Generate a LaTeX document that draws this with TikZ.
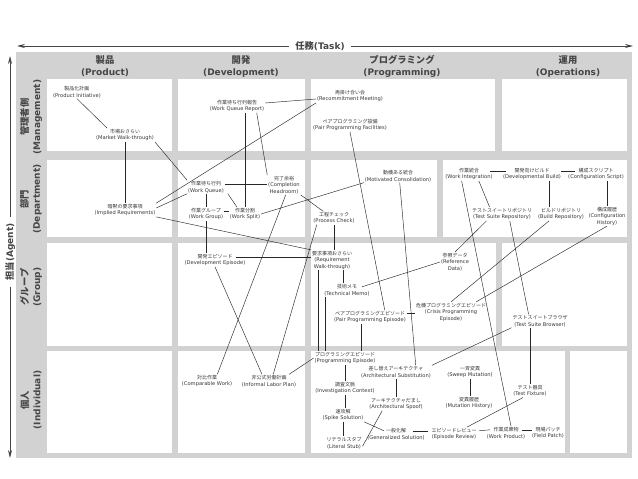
\documentclass[tikz,border=0pt]{standalone}
\usepackage{fontspec}
\newfontfamily\jp{Noto Sans CJK JP}
\newfontfamily\enf{DejaVu Sans}
\usetikzlibrary{arrows.meta,calc}
\definecolor{bggray}{RGB}{210,210,210}
\definecolor{txt}{RGB}{55,55,55}
\definecolor{hdrc}{RGB}{70,70,70}
\definecolor{linec}{RGB}{40,40,40}
\newcommand\engl{\enf\fontsize{5.15}{6.5}\selectfont}
\newcommand\hdj{\jp\bfseries\fontsize{9.3}{11}\selectfont}
\newcommand\hde{\enf\bfseries\fontsize{9}{11}\selectfont}
\begin{document}
\begin{tikzpicture}[x=1pt,y=-1pt,
  pat/.style={font=\jp\fontsize{5}{6.5}\selectfont, align=center, inner sep=0.8pt, text=txt},
  hdr/.style={align=center, inner sep=0pt, text=hdrc},
  link/.style={draw=linec, line width=0.45pt},
  arr/.style={draw=hdrc, line width=0.8pt, -{Stealth[length=8pt,width=4pt]}}]
\useasboundingbox (0,0) rectangle (638,479);
% grid
\fill[bggray] (16,52) rectangle (632,458);
\foreach \xa/\ya/\xb/\yb in {47/79/172/151, 178/79/305/151, 311/79/495/151, 502/79/627/151,
 47/160/172/237, 178/160/305/237, 311/160/437/237, 443/160/627/237,
 47/243/172/346, 178/243/305/346, 311/243/496/346, 502/243/627/346,
 47/351/172/453, 178/351/305/453, 311/351/565/453, 570/351/627/453}
 \fill[white] (\xa,\ya) rectangle (\xb,\yb);
% axes
\node[hdr] (task) at (320,46) {{\hdj 任務}{\hde (Task)}};
\coordinate (tL) at (17,46);
\coordinate (tR) at (633,46);
\draw[arr] ($(task.west)+(-6,0)$) -- (tL);
\draw[arr] ($(task.east)+(6,0)$) -- (tR);
\node[hdr, rotate=90] (agent) at (10,252) {{\hdj 担当}{\hde (Agent)}};
\coordinate (aT) at (10,56);
\coordinate (aB) at (10,458);
\draw[arr] ($(agent.east)+(0,-6)$) -- (aT);
\draw[arr] ($(agent.west)+(0,6)$) -- (aB);
% headers
\node[hdr] (hP) at (105,66.5) {\hdj 製品\\\hde (Product)};
\node[hdr] (hD) at (241,66.5) {\hdj 開発\\\hde (Development)};
\node[hdr] (hG) at (402,66.5) {\hdj プログラミング\\\hde (Programming)};
\node[hdr] (hO) at (568,66.5) {\hdj 運用\\\hde (Operations)};
\node[hdr, rotate=90] (hM) at (31,117) {\hdj 管理者側\\\hde (Management)};
\node[hdr, rotate=90] (hDp) at (31,199) {\hdj 部門\\\hde (Department)};
\node[hdr, rotate=90] (hGr) at (31,287) {\hdj グループ\\\hde (Group)};
\node[hdr, rotate=90] (hI) at (31,400) {\hdj 個人\\\hde (Individual)};
% patterns
\node[pat] (pi) at (77,92) {製品化計画\\\engl (Product Initiative)};
\node[pat] (mwt) at (125,135) {市場おさらい\\\engl (Market Walk-through)};
\node[pat] (wqr) at (237,106) {作業待ち行列報告\\\engl (Work Queue Report)};
\node[pat] (rm) at (350,96) {再掛け合い会\\\engl (Recommitment Meeting)};
\node[pat] (ppf) at (350,125) {ペアプログラミング設備\\\engl (Pair Programming Facilities)};
\node[pat] (ir) at (125,210) {暗黙の要求事項\\\engl (Implied Requirements)};
\node[pat] (wq) at (206,187) {作業待ち行列\\\engl (Work Queue)};
\node[pat] (ch) at (284,185) {完了余裕\\\engl (Completion\\\engl Headroom)};
\node[pat] (wg) at (206,214) {作業グループ\\\engl (Work Group)};
\node[pat] (ws) at (245,214) {作業分割\\\engl (Work Split)};
\node[pat] (pc) at (334,218) {工程チェック\\\engl (Process Check)};
\node[pat] (mc) at (398,176) {動機ある統合\\\engl (Motivated Consolidation)};
\node[pat] (wi) at (469,174) {作業統合\\\engl (Work Integration)};
\node[pat] (db) at (532,174) {開発向けビルド\\\engl (Developmental Build)};
\node[pat] (cs) at (596,174) {構成スクリプト\\\engl (Configuration Script)};
\node[pat] (tsr) at (502,214) {テストスイートリポジトリ\\\engl (Test Suite Repository)};
\node[pat] (br) at (561,214) {ビルドリポジトリ\\\engl (Build Repository)};
\node[pat] (chx) at (607,216) {構成履歴\\\engl (Configuration\\\engl History)};
\node[pat] (de) at (215,260) {開発エピソード\\\engl (Development Episode)};
\node[pat] (rwt) at (332,260) {要求事項おさらい\\\engl (Requirement\\\engl Walk-through)};
\node[pat] (tm) at (347,290) {技術メモ\\\engl (Technical Memo)};
\node[pat] (rd) at (455,262) {参照データ\\\engl (Reference\\\engl Data)};
\node[pat] (ppe) at (370,317) {ペアプログラミングエピソード\\\engl (Pair Programming Episode)};
\node[pat] (cpe) at (451,312) {危機プログラミングエピソード\\\engl (Crisis Programming\\\engl Episode)};
\node[pat] (tsb) at (540,321) {テストスイートブラウザ\\\engl (Test Suite Browser)};
\node[pat] (cw) at (207,381) {対比作業\\\engl (Comparable Work)};
\node[pat] (ilp) at (269,381) {非公式労働計画\\\engl (Informal Labor Plan)};
\node[pat] (pe) at (345,358) {プログラミングエピソード\\\engl (Programming Episode)};
\node[pat] (ic) at (345,388) {調査文脈\\\engl (Investigation Context)};
\node[pat] (spk) at (343,415) {速攻解\\\engl (Spike Solution)};
\node[pat] (ls) at (344,443) {リテラルスタブ\\\engl (Literal Stub)};
\node[pat] (arsub) at (396,372) {差し替えアーキテクチャ\\\engl (Architectural Substitution)};
\node[pat] (asp) at (396,404) {アーキテクチャだまし\\\engl (Architectural Spoof)};
\node[pat] (gs) at (396,434) {一般化解\\\engl (Generalized Solution)};
\node[pat] (er) at (454,434) {エピソードレビュー\\\engl (Episode Review)};
\node[pat] (wp) at (506,433) {作業成果物\\\engl (Work Product)};
\node[pat] (fp) at (548,433) {現場パッチ\\\engl (Field Patch)};
\node[pat] (sm) at (470,372) {一斉変異\\\engl (Sweep Mutation)};
\node[pat] (mh) at (469,403) {変異履歴\\\engl (Mutation History)};
\node[pat] (tf) at (530,391) {テスト器具\\\engl (Test Fixture)};
% links
\draw[link] (pi.south) -- ($(mwt.north)!0.6!(mwt.north west)$);
\draw[link] (mwt.south) -- (mwt.south |- ir.north);
\draw[link] (mwt.south east) -- (wq.north west);
\draw[link] ($(wqr.east)+(0,-3)$) -- ($(rm.west)+(0,3)$);
\draw[link] (rm.south west) -- (ir.north east);
\draw[link] (ws.north |- wqr.south) -- (ws.north);
\draw[link] ($(wqr.south)!0.7!(wqr.south east)$) -- (ch.north west);
\draw[link] ($(wq.east)+(0,-3.2)$) -- ($(ch.west)+(0,-1.2)$);
\draw[link] (wq.south) -- (wq.south |- wg.north);
\draw[link] ($(wq.south east)+(3,0)$) -- ($(ws.north)!0.5!(ws.north west)$);
\draw[link] ($(wg.east)+(0,-3.2)$) -- ($(ws.west)+(0,-3.2)$);
\draw[link] ($(ir.east)+(0,-2)$) -- (wq.south west);
\draw[link] (ir.south east) -- (rwt.north west);
\draw[link] (ws.east) -- (mc.south west);
\draw[link] (ch.south east) -- ($(pc.north west)!0.25!(pc.north east)$);
\draw[link] ($(ch.south)!0.1!(ch.south east)$) -- ($(cw.north)!0.4!(cw.north east)$);
\draw[link] (pc.south) -- (pc.south |- rwt.north);
\draw[link] ($(pc.south west)!0.1!(pc.south east)$) -- ($(ilp.north)!0.15!(ilp.north east)$);
\draw[link] (wg.south) -- (wg.south |- de.north);
\draw[link] ($(de)+(21,-3.2)$) -- ($(rwt.west)+(0,-3.2)$);
\draw[link] (de.south) -- ($(ilp.north)!0.25!(ilp.north west)$);
\coordinate (tmA) at ($(tm.north)+(-4,0)$);
\draw[link] (tmA) -- (tmA |- rwt.south);
\coordinate (rpA) at ($(rwt.south west)+(7,0)$);
\draw[link] (rpA) -- (rpA |- pe.north);
\coordinate (tpA) at ($(tm.south west)+(2,0)$);
\draw[link] (tpA) -- (tpA |- pe.north);
\draw[link] ($(tm)+(15,-3.2)$) -- (rd.west);
\draw[link] (rd.north) -- ($(tsr.south)!0.5!(tsr.south west)$);
\draw[link] (ppf.south) -- ($(ppe.north)!0.4!(ppe.north east)$);
\coordinate (ppA) at ($(ppe.south)+(-9,0)$);
\draw[link] (ppA) -- (ppA |- pe.north);
\draw[link] ($(ppe.east)+(0,-4)$) -- ($(cpe.west)+(0,1)$);
\draw[link] (cpe.north) -- ($(br.south)!0.5!(br.south west)$);
\draw[link] ($(cpe.north)!0.7!(cpe.north east)$) -- (chx.south);
\draw[link] ($(tsr.south)!0.25!(tsr.south east)$) -- ($(tsb.north)!0.4!(tsb.north west)$);
\draw[link] (tf.north |- tsb.south) -- (tf.north);
\draw[link] (tsb.south west) -- (arsub.north east);
\draw[link] ($(wi.south)!0.4!(wi.south east)$) -- ($(tsr.north)!0.4!(tsr.north west)$);
\draw[link] ($(wi.south)!0.3!(wi.south west)$) -- ($(wp.north)!0.25!(wp.north east)$);
\draw[link] ($(wi)+(21,-3.2)$) -- ($(db)+(-26,-3.2)$);
\draw[link] ($(db)+(29,-3.2)$) -- ($(cs)+(-21,-3.2)$);
\coordinate (dbA) at ($(br.north)+(-12,0)$);
\draw[link] (dbA) -- (dbA |- db.south);
\draw[link] (chx.north) -- (chx.north |- cs.south);
\draw[link] ($(mc.south)!0.05!(mc.south east)$) -- ($(arsub.north)!0.55!(arsub.north east)$);
\draw[link] ($(ilp.north east)+(-8,0)$) -- (pe.west);
\draw[link] (pe.south) -- (pe.south |- ic.north);
\draw[link] (ic.south) -- (ic.south |- spk.north);
\draw[link] (spk.south) -- (spk.south |- ls.north);
\draw[link] (spk.south east) -- ($(gs)+(-12,-3.2)$);
\draw[link] (arsub.south) -- (arsub.south |- asp.north);
\draw[link] ($(asp.south)!0.5!(asp.south west)$) -- ($(ls.east)!0.5!(ls.south east)$);
\draw[link] ($(gs)+(17,-3.2)$) -- ($(er)+(-26,-3.2)$);
\draw[link] ($(er)+(25,-3.2)$) -- ($(wp)+(-16,-3.2)$);
\draw[link] ($(wp)+(16,-3.2)$) -- ($(fp)+(-16,-3.2)$);
\draw[link] (sm.south) -- (sm.south |- mh.north);
\draw[link] ($(tf.south)!0.4!(tf.south west)$) -- ($(er.north)!0.55!(er.north east)$);
\end{tikzpicture}
\end{document}
